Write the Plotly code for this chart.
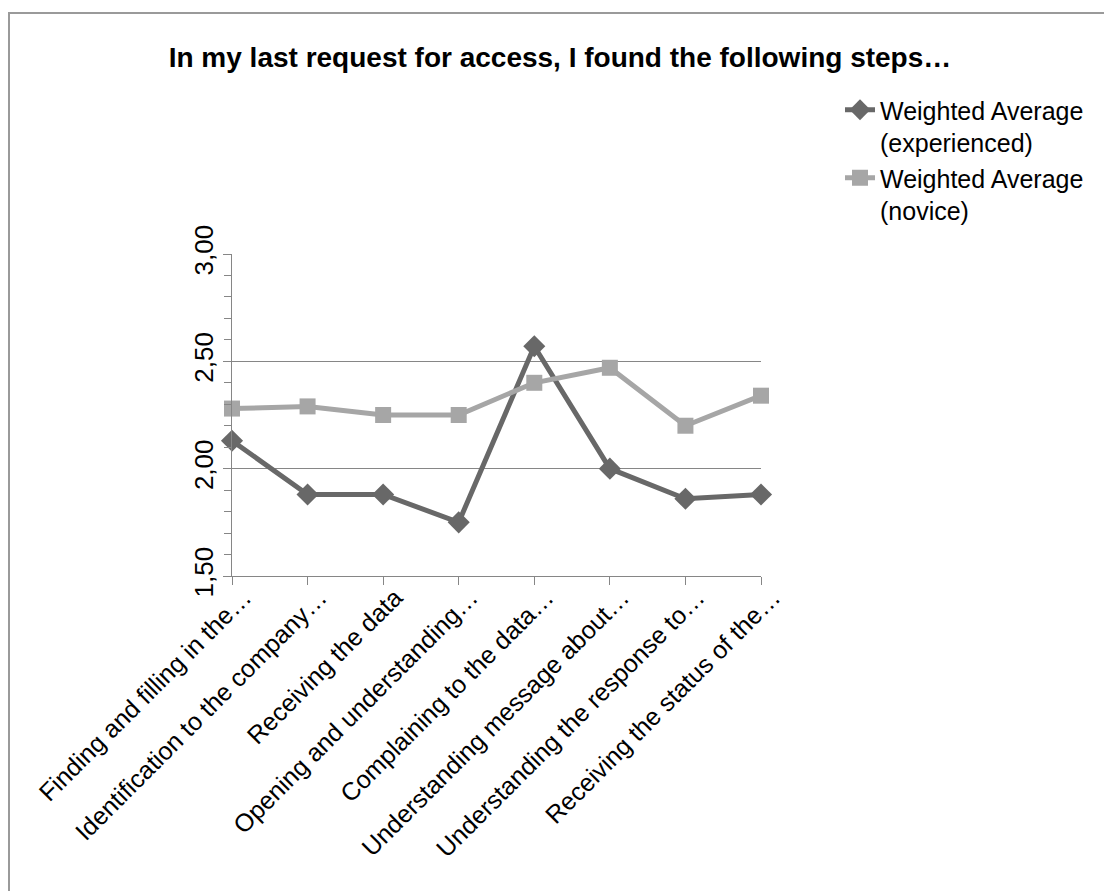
import plotly.graph_objects as go

categories = [
    "Finding and filling in the…",
    "Identification to the company…",
    "Receiving the data",
    "Opening and understanding…",
    "Complaining to the data…",
    "Understanding message about…",
    "Understanding the response to…",
    "Receiving the status of the…",
]
experienced = [2.13, 1.88, 1.88, 1.75, 2.57, 2.00, 1.86, 1.88]
novice = [2.28, 2.29, 2.25, 2.25, 2.40, 2.47, 2.20, 2.34]
y_tickvals = [1.5, 2.0, 2.5, 3.0]
y_ticktext = ["1,50", "2,00", "2,50", "3,00"]
title_text = "<b>In my last request for access, I found the following steps…</b>"

W, H = 1104, 891
L, R, T, B = 232, 761, 254, 576  # plot area pixels

FONT = "Liberation Sans, Arial, sans-serif"
AXIS_COLOR = "#868686"

fig = go.Figure()
fig.add_trace(go.Scatter(
    x=list(range(len(categories))), y=experienced,
    name="Weighted Average<br>(experienced)",
    mode="lines+markers",
    line=dict(color="#686868", width=5),
    marker=dict(symbol="diamond", size=17, color="#686868"),
    cliponaxis=False,
))
fig.add_trace(go.Scatter(
    x=list(range(len(categories))), y=novice,
    name="Weighted Average<br>(novice)",
    mode="lines+markers",
    line=dict(color="#a6a6a6", width=5),
    marker=dict(symbol="square", size=16, color="#a6a6a6"),
    cliponaxis=False,
))

def px_x(p):
    return (p - L) / (R - L)

def px_y(p):
    return (B - p) / (B - T)

fig.update_layout(
    width=W, height=H,
    margin=dict(l=L, r=W - R, t=T, b=H - B, autoexpand=False),
    paper_bgcolor="white", plot_bgcolor="white",
    font=dict(family=FONT, size=25, color="black"),
    title=dict(text=title_text, x=560 / W, xanchor="center", y=1 - 57 / H,
               yanchor="middle", yref="container",
               font=dict(family=FONT, size=28, color="black")),
    showlegend=True,
    legend=dict(x=px_x(840), y=px_y(87), xanchor="left", yanchor="top",
                font=dict(family=FONT, size=25, color="black"),
                valign="top", tracegroupgap=4, bgcolor="rgba(0,0,0,0)"),
    shapes=[dict(type="rect", xref="paper", yref="paper",
                 x0=px_x(9), x1=px_x(1130), y0=px_y(920), y1=px_y(13),
                 line=dict(color="#9a9a9a", width=2), fillcolor="rgba(0,0,0,0)",
                 layer="below")],
)

fig.update_xaxes(
    tickmode="array", tickvals=list(range(len(categories))), ticktext=categories,
    range=[0, len(categories) - 1], tickangle=-45,
    showgrid=False, showline=True, linecolor=AXIS_COLOR, linewidth=1,
    ticks="outside", ticklen=8, tickcolor=AXIS_COLOR, tickwidth=1,
    tickfont=dict(family=FONT, size=25, color="black"),
    ticklabelshift=12, ticklabelstandoff=-12,
    zeroline=False, automargin=False,
)
fig.update_yaxes(
    range=[1.5, 3.0], tickmode="array", tickvals=y_tickvals, ticktext=y_ticktext,
    tickangle=-90, showgrid=True, gridcolor=AXIS_COLOR, gridwidth=1,
    showline=True, linecolor=AXIS_COLOR, linewidth=1,
    ticks="outside", ticklen=8, tickcolor=AXIS_COLOR, tickwidth=1,
    minor=dict(dtick=0.1, tick0=1.5, ticks="outside", ticklen=7,
               tickcolor=AXIS_COLOR, showgrid=False),
    tickfont=dict(family=FONT, size=26, color="black"),
    zeroline=False, automargin=False,
)

fig.write_html("out.html")
